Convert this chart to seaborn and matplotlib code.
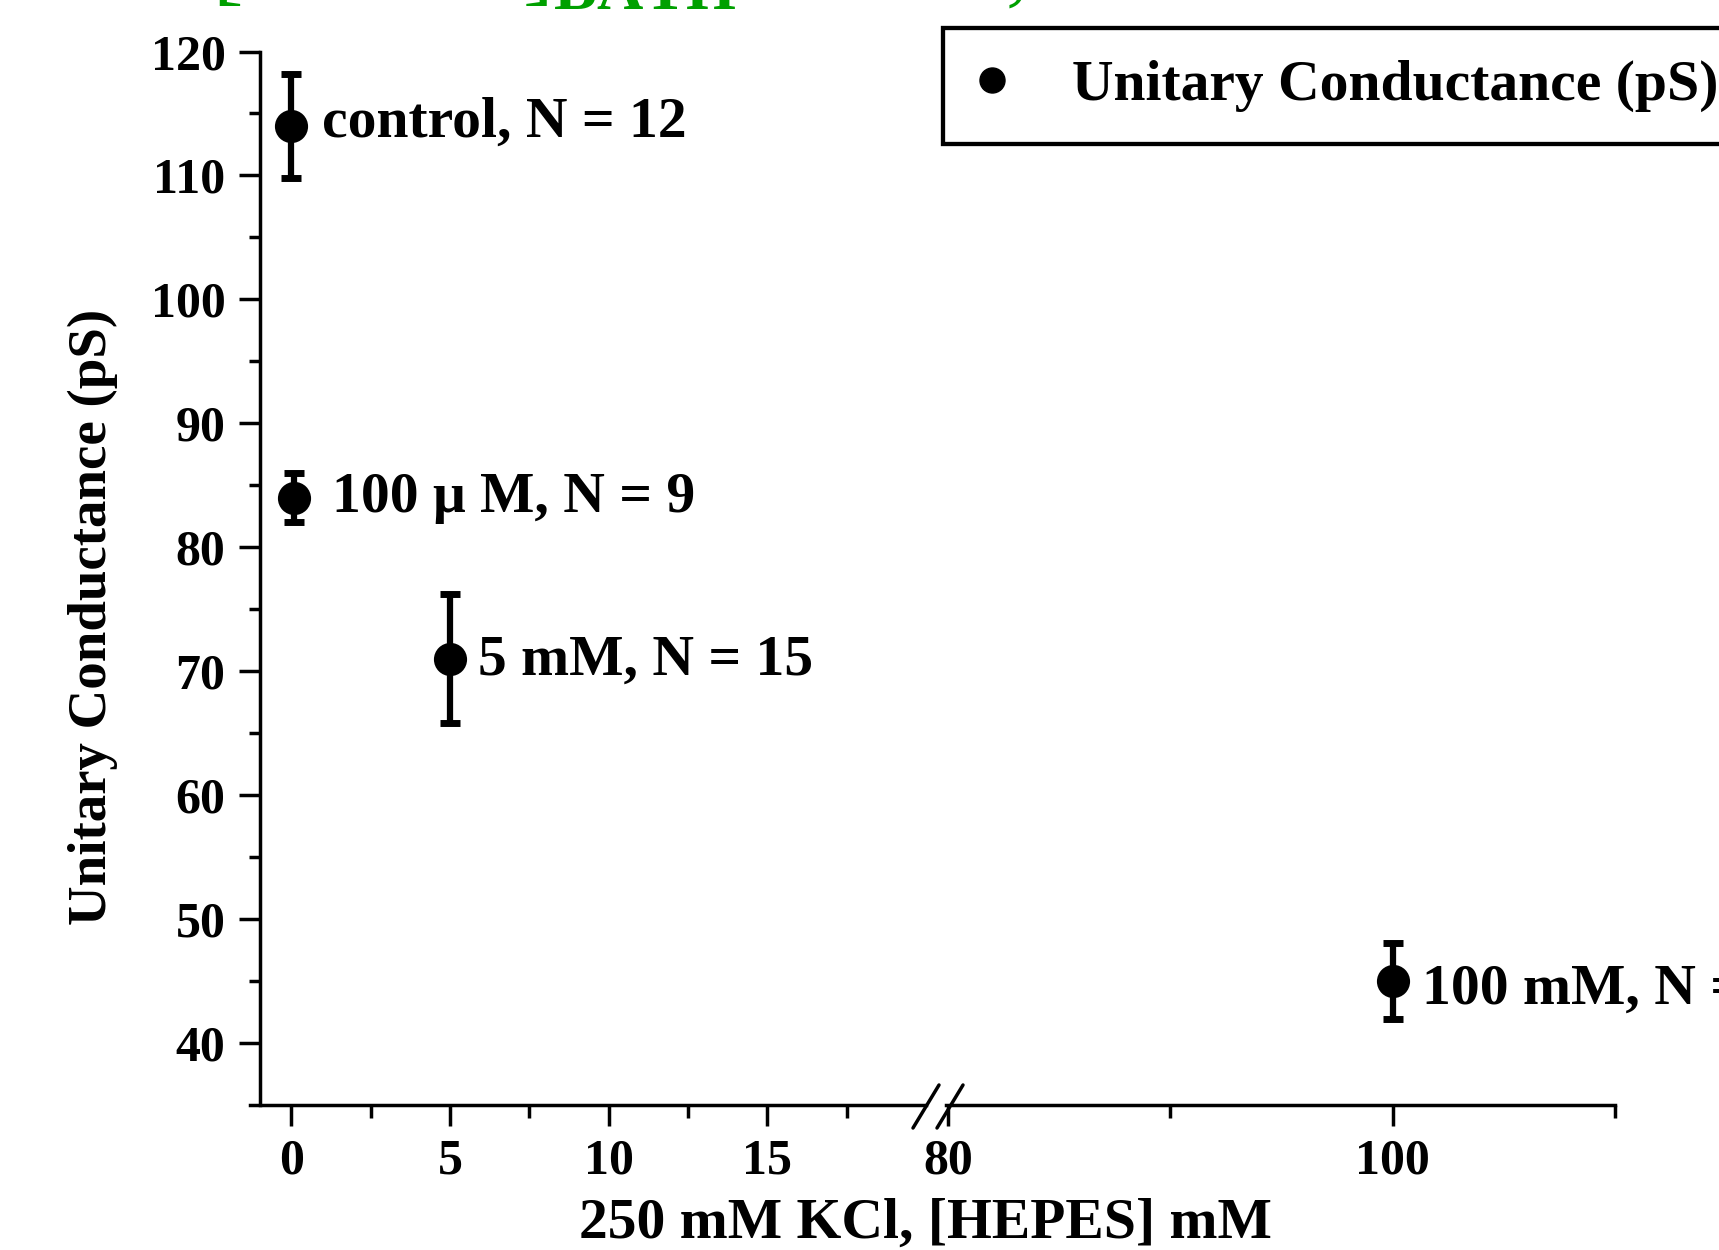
import matplotlib
matplotlib.use("Agg")
import matplotlib.pyplot as plt
from matplotlib.lines import Line2D
import seaborn as sns
import pandas as pd

# ---------------- data ----------------
hepes_mM = [0.0, 0.1, 5.0, 100.0]
conductance_pS = [114.0, 84.0, 71.0, 45.0]
error_pS = [4.2, 2.0, 5.2, 3.1]
point_labels = ["control, N = 12", "100 \u03bc M, N = 9", "5 mM, N = 15", "100 mM, N = 10"]
x_major_left = [0, 5, 10, 15]
x_minor_left = [2.5, 7.5, 12.5, 17.5]
x_major_right = [80, 100]
x_minor_right = [90, 110]
y_major = [40, 50, 60, 70, 80, 90, 100, 110, 120]
y_minor = [45, 55, 65, 75, 85, 95, 105, 115]
series_name = "Unitary Conductance (pS)"
x_label = "250 mM KCl, [HEPES] mM"
y_label = "Unitary Conductance (pS)"
top_title = r"[HEPES]$_{\mathrm{BATH}}$ effects, 250 mM KCl"

# ---------------- style ----------------
label_offsets = [(22, -8), (27, -10), (20, -11.5), (21, -16)]  # points

sns.set_style("ticks")
plt.rcParams["font.family"] = ["Liberation Serif", "DejaVu Serif"]
plt.rcParams["font.weight"] = "bold"
plt.rcParams["mathtext.fontset"] = "custom"
plt.rcParams["mathtext.rm"] = "Liberation Serif"
for k in ("text.color", "axes.labelcolor", "xtick.color", "ytick.color", "axes.edgecolor"):
    plt.rcParams[k] = "black"

W, H = 1719, 1250
fig = plt.figure(figsize=(W / 100, H / 100), dpi=100)
fig.patch.set_facecolor("white")
top_px, bot_px = 51.5, 1105
ax1 = fig.add_axes([250 / W, 1 - bot_px / H, (926 - 250) / W, (bot_px - top_px) / H])
ax2 = fig.add_axes([946 / W, 1 - bot_px / H, (1615 - 946) / W, (bot_px - top_px) / H], sharey=ax1)
for ax in (ax1, ax2):
    ax.set_facecolor("none")

df = pd.DataFrame({"hepes": hepes_mM, "g": conductance_pS, "err": error_pS, "label": point_labels})
split = 50
for ax, sub in ((ax1, df[df.hepes < split]), (ax2, df[df.hepes >= split])):
    ax.errorbar(sub["hepes"], sub["g"], yerr=sub["err"], fmt="none", ecolor="black",
                elinewidth=4.5, capsize=7.5, capthick=5, zorder=2)
    sns.scatterplot(data=sub, x="hepes", y="g", ax=ax, color="black", s=570,
                    linewidth=0, zorder=3, legend=False)
    for idx, r in sub.iterrows():
        dx, dy = label_offsets[idx]
        ax.annotate(r["label"], (r["hepes"], r["g"]), xytext=(dx, dy), textcoords="offset points",
                    ha="left", va="baseline", fontsize=41.5, fontweight="bold", color="black",
                    annotation_clip=False)
    ax.set_xlabel("")
    ax.set_ylabel("")

ax1.set_xlim(-1.3, 20.0)
ax2.set_xlim(79.9, 110.0)
ax1.set_ylim(35, 120)

ax1.set_xticks(x_major_left)
ax1.set_xticklabels([str(v) for v in x_major_left])
ax1.set_xticks(x_minor_left, minor=True)
ax2.set_xticks(x_major_right)
ax2.set_xticklabels([str(v) for v in x_major_right])
ax2.set_xticks(x_minor_right, minor=True)
ax1.set_yticks(y_major)
ax1.set_yticklabels([str(v) for v in y_major])
ax1.set_yticks(y_minor, minor=True)

for ax in (ax1, ax2):
    for s in ax.spines.values():
        s.set_linewidth(2.5)
        s.set_color("black")
    ax.spines["top"].set_visible(False)
    ax.spines["right"].set_visible(False)
    ax.tick_params(axis="x", which="major", direction="out", length=15, width=2.5,
                   labelsize=36, pad=9, colors="black")
    ax.tick_params(axis="x", which="minor", direction="out", length=9, width=2.5, colors="black")
ax1.spines["left"].set_position(("data", -1))
ax1.tick_params(axis="y", which="major", direction="out", length=15, width=2.5,
                labelsize=36, pad=9.5, colors="black")
ax1.tick_params(axis="y", which="minor", direction="out", length=8, width=2.5, colors="black")
ax2.spines["left"].set_visible(False)
ax2.tick_params(axis="y", which="both", left=False, labelleft=False)

# axis-break marks
for x0 in (913, 937):
    fig.add_artist(Line2D([x0 / W, (x0 + 26) / W], [1 - 1128 / H, 1 - 1085 / H],
                          color="black", lw=2.5, transform=fig.transFigure))

# axis labels
fig.text(925 / W, 1 - 1238 / H, x_label, ha="center", va="baseline", fontsize=41.5,
         fontweight="bold", color="black")
fig.text(93 / W, 1 - 617 / H, y_label, ha="center", va="center", rotation=90,
         fontsize=39.5, fontweight="bold", color="black")

# cropped green heading
fig.text(212 / W, 1 + 5 / H, top_title, ha="left", va="baseline", fontsize=66,
         fontweight="normal", color="#00a000")

# legend
handle = Line2D([], [], marker="o", color="black", linestyle="none", markersize=18)
leg = fig.legend([handle], [series_name], loc="upper left", bbox_to_anchor=(943 / W, 1 - 28 / H),
                 bbox_transform=fig.transFigure, frameon=True, fancybox=False, framealpha=1,
                 edgecolor="black", borderpad=0.55, handlelength=0.6, handletextpad=1.09,
                 borderaxespad=0, prop={"size": 41.5, "weight": "bold"})
leg.get_frame().set_linewidth(3.1)
for t in leg.get_texts():
    t.set_color("black")

fig.savefig("out.png", dpi=100, facecolor="white")
